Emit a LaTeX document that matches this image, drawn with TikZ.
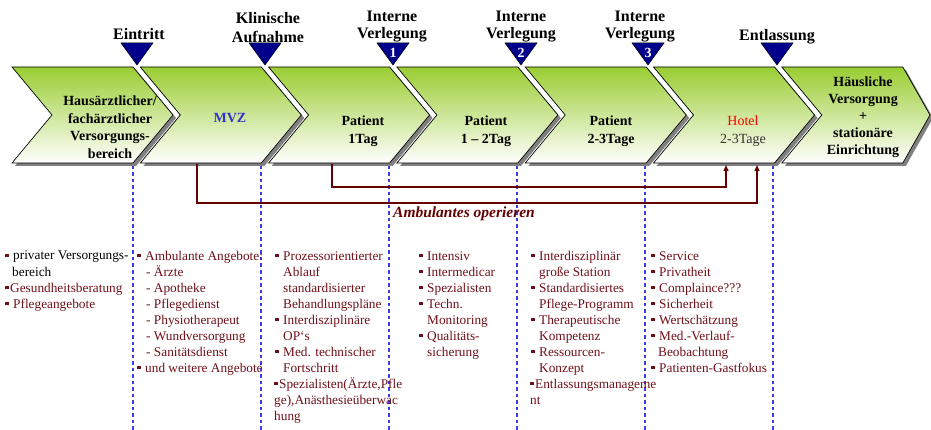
\documentclass[tikz,border=0pt]{standalone}
\usepackage{fontspec}
\setmainfont{Liberation Serif}
\usetikzlibrary{arrows.meta}
\definecolor{chevgreen}{RGB}{154,205,50}
\definecolor{dred}{RGB}{112,16,24}
\definecolor{conred}{RGB}{102,0,0}
\definecolor{navyt}{RGB}{0,0,140}
\definecolor{dashblue}{RGB}{60,60,230}
\definecolor{mvzblue}{RGB}{51,51,204}
\definecolor{txtgray}{RGB}{51,51,51}
\definecolor{shadowgray}{RGB}{128,128,128}
\newcommand\bsq{\textcolor{dred}{\rule[2.8pt]{3.3pt}{3.3pt}}}
\newcommand\bl{\bsq\hspace{4.7pt}}
\newcommand\bk{\bsq\hspace{1.7pt}}
\newcommand\chevron[3]{%
  \fill[shadowgray] ({#1+3},70) -- ({#2+3},70) -- ({#3+3},118) -- ({#2+3},166) -- ({#1+3},166) -- ({#1+43},118) -- cycle;
  \path[chev] (#1,67) -- (#2,67) -- (#3,115) -- (#2,163) -- (#1,163) -- ({#1+40},115) -- cycle;}
\newcommand\marker[1]{\path[tri] ({#1-16},43) -- ({#1+16},43) -- (#1,65) -- cycle;}
\tikzset{
  chev/.style={draw=black, line width=0.7pt, top color=chevgreen, bottom color=white},
  tri/.style={fill=navyt, draw=black, line width=0.5pt},
  chevtext/.style={anchor=base, align=center, inner sep=0pt, font=\fontsize{14}{17.5}\selectfont\bfseries},
  toplabel/.style={anchor=base, align=center, inner sep=0pt, font=\fontsize{16}{17}\selectfont\bfseries},
  num/.style={anchor=base, inner sep=0pt, text=white, font=\fontsize{14}{16}\selectfont\bfseries},
  coltext/.style={anchor=base west, align=left, inner sep=0pt, text=dred, font=\fontsize{13.3}{16}\selectfont},
  sepline/.style={draw=dashblue, line width=1.1pt, dash pattern=on 3.5pt off 3pt},
  conn/.style={draw=conred, line width=1.4pt, -{Triangle[length=6pt,width=5pt]}}
}
\begin{document}
\begin{tikzpicture}[x=1pt,y=-1pt]
\useasboundingbox (0,0) rectangle (931,430);
\fill[white] (0,0) rectangle (931,430);
% chevrons
\chevron{12}{133}{173}
\chevron{140.3}{261.3}{301.3}
\chevron{268.6}{389.6}{429.6}
\chevron{396.9}{517.9}{557.9}
\chevron{525.2}{646.2}{686.2}
\chevron{653.5}{774.5}{814.5}
\chevron{781.8}{902.8}{930}
% chevron texts (anchor = baseline of last line)
\node[chevtext] (t1) at (110,158.5) {Hausärztlicher/\\fachärztlicher\\Versorgungs-\\bereich};
\node[chevtext, text=mvzblue] (t2) at (230,123) {MVZ};
\node[chevtext] (t3) at (363,143.5) {Patient\\1Tag};
\node[chevtext] (t4) at (486,143.5) {Patient\\1 – 2Tag};
\node[chevtext] (t5) at (611,143.5) {Patient\\2-3Tage};
\node[chevtext, font=\fontsize{14}{17.5}\selectfont] (t6) at (743,143.5) {\textcolor{red}{Hotel}\\\textcolor{txtgray}{2-3Tage}};
\node[chevtext, font=\fontsize{14}{17}\selectfont\bfseries] (t7) at (863,155) {Häusliche\\Versorgung\\+\\stationäre\\Einrichtung};
% top labels
\node[toplabel] (l1) at (139,40) {Eintritt};
\node[toplabel, font=\fontsize{16}{19}\selectfont\bfseries] (l2) at (268,43) {Klinische\\Aufnahme};
\node[toplabel] (l3) at (392,39) {Interne\\Verlegung};
\node[toplabel] (l4) at (521,39) {Interne\\Verlegung};
\node[toplabel] (l5) at (640,39) {Interne\\Verlegung};
\node[toplabel] (l6) at (777,41) {Entlassung};
% markers
\marker{137}
\marker{265}
\marker{393}
\marker{521}
\marker{648}
\marker{777}
\node[num] (n1) at (393,58) {1};
\node[num] (n2) at (521,58) {2};
\node[num] (n3) at (648,58) {3};
% dashed separators
\foreach \x [count=\k] in {133,261,389,517,645,773}{
  \coordinate (s\k a) at (\x,166);
  \coordinate (s\k b) at (\x,430);
  \draw[sepline] (s\k a) -- (s\k b);
}
% connectors
\coordinate (a1) at (197,164);
\coordinate (a2) at (332,164);
\coordinate (h1) at (726,165);
\coordinate (h2) at (757,165);
\draw[conn] (a2) -- ++(0,23) -| (h1);
\draw[conn] (a1) -- ++(0,39) -| (h2);
\node[anchor=base, inner sep=0pt, text=conred, font=\fontsize{15.5}{18}\selectfont\bfseries\itshape] (amb) at (464,218) {Ambulantes operieren};
% bottom columns (anchor = baseline of last line)
\node[coltext] (c1) at (5,308) {\bl\textcolor{black}{privater Versorgungs-}\\\hspace*{7pt}\textcolor{black}{bereich}\\\bk Gesundheitsberatung\\\bl Pflegeangebote};
\node[coltext] (c2) at (137,372) {\bl Ambulante Angebote:\\\hspace*{9pt}- Ärzte\\\hspace*{9pt}- Apotheke\\\hspace*{9pt}- Pflegedienst\\\hspace*{9pt}- Physiotherapeut\\\hspace*{9pt}- Wundversorgung\\\hspace*{9pt}- Sanitätsdienst\\\bl und weitere Angebote};
\node[coltext] (c3) at (274,420) {\hspace*{1pt}\bl Prozessorientierter\\\hspace*{9pt}Ablauf\\\hspace*{9pt}standardisierter\\\hspace*{9pt}Behandlungspläne\\\hspace*{1pt}\bl Interdisziplinäre\\\hspace*{9pt}OP‘s\\\hspace*{1pt}\bl Med. technischer\\\hspace*{9pt}Fortschritt\\\bk Spezialisten(Ärzte,Pfle\\ge),Anästhesieüberwac\\hung};
\node[coltext] (c4) at (419,356) {\bl Intensiv\\\bl Intermedicar\\\bl Spezialisten\\\bl Techn.\\\hspace*{8pt}Monitoring\\\bl Qualitäts-\\\hspace*{8pt}sicherung};
\node[coltext] (c5) at (530,404) {\hspace*{1pt}\bl Interdisziplinär\\\hspace*{9pt}große Station\\\hspace*{1pt}\bl Standardisiertes\\\hspace*{9pt}Pflege-Programm\\\hspace*{1pt}\bl Therapeutische\\\hspace*{9pt}Kompetenz\\\hspace*{1pt}\bl Ressourcen-\\\hspace*{9pt}Konzept\\\bk Entlassungsmanageme\\nt};
\node[coltext] (c6) at (651,372) {\bl Service\\\bl Privatheit\\\bl Complaince???\\\bl Sicherheit\\\bl Wertschätzung\\\bl Med.-Verlauf-\\\hspace*{7pt}Beobachtung\\\bl Patienten-Gastfokus};
\end{tikzpicture}
\end{document}
